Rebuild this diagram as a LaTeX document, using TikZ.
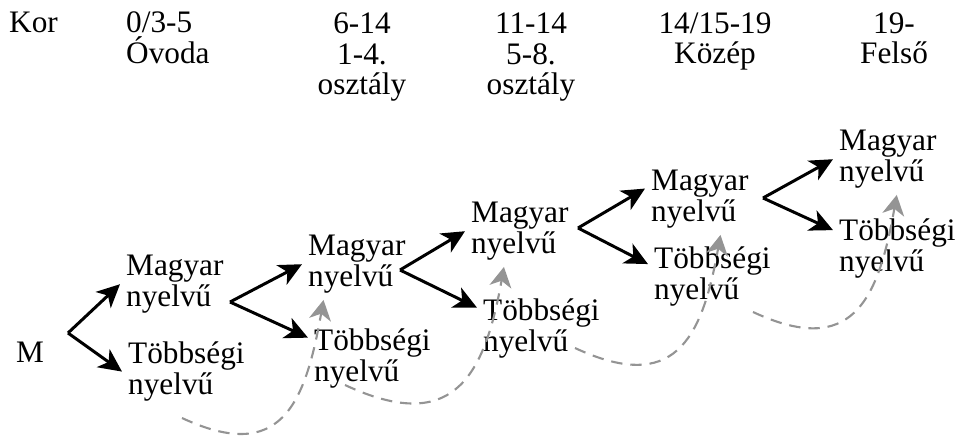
\documentclass[tikz,border=0pt]{standalone}
\usepackage{fontspec}
\setmainfont{Liberation Serif}
\usetikzlibrary{arrows.meta}
\tikzset{>={Stealth[length=4.6mm,width=4.4mm,inset=1.3mm]}}
\tikzset{
  label text/.style={align=left, anchor=base west, font=\fontsize{17.8}{18.1}\selectfont},
  head text/.style={align=center, anchor=base, font=\fontsize{17.8}{17.6}\selectfont},
  branch/.style={->, line width=1.7pt},
  back/.style={->, color=black!42, line width=1.2pt, dash pattern=on 6.5pt off 4.5pt,
    out=-25, in=-100, looseness=1.5, >={Stealth[length=4mm,width=4.4mm,inset=1.2mm]}}
}

\begin{document}
\begin{tikzpicture}
    \useasboundingbox (0,0) rectangle (19.3,-8.78);

    % age groups (node base = last line)
    \node[label text] (kor) at (0.06,-0.66) {Kor};
    \node[label text] (age1) at (2.4,-1.28) {0/3-5\\Óvoda};
    \node[head text] (age2) at (7.24,-1.9) {6-14\\1-4.\\osztály};
    \node[head text] (age3) at (10.62,-1.9) {11-14\\5-8.\\osztály};
    \node[head text] (age4) at (14.3,-1.28) {14/15-19\\Közép};
    \node[head text] (age5) at (17.88,-1.28) {19-\\Felső};

    \node[label text] (M) at (0.2,-7.26) {M};
    \node[label text] (mh1) at (2.4,-6.14) {Magyar\\nyelvű};
    \node[label text] (tb1) at (2.44,-7.9) {Többségi\\nyelvű};
    \node[label text] (mh2) at (6.04,-5.74) {Magyar\\nyelvű};
    \node[label text] (tb2) at (6.16,-7.64) {Többségi\\nyelvű};
    \node[label text] (mh3) at (9.3,-5.08) {Magyar\\nyelvű};
    \node[label text] (tb3) at (9.54,-7.04) {Többségi\\nyelvű};
    \node[label text] (mh4) at (12.9,-4.44) {Magyar\\nyelvű};
    \node[label text] (tb4) at (12.96,-6.0) {Többségi\\nyelvű};
    \node[label text] (mh5) at (16.66,-3.64) {Magyar\\nyelvű};
    \node[label text] (tb5) at (16.66,-5.44) {Többségi\\nyelvű};

    \coordinate (f0) at (1.36,-6.66);
    \coordinate (f1) at (4.6,-6.04);
    \coordinate (f2) at (8.0,-5.4);
    \coordinate (f3) at (11.56,-4.56);
    \coordinate (f4) at (15.26,-3.96);

    \coordinate (g1) at (3.64,-8.36);
    \coordinate (g2) at (6.9,-7.7);
    \coordinate (g3) at (11.5,-6.96);
    \coordinate (g4) at (15.06,-6.24);

    \draw[back] (g1) to (mh2.227);
    \draw[back] (g2) to (mh3.246);
    \draw[back] (g3) to (mh4.300);
    \draw[back] (g4) to (mh5.284);

    \draw[branch] (f0) -- (mh1.west);
    \draw[branch] (f0) -- (tb1.west);
    \draw[branch] (f1) -- (mh2.west);
    \draw[branch] (f1) -- (tb2.162);
    \draw[branch] (f2) -- (mh3.west);
    \draw[branch] (f2) -- (tb3.162);
    \draw[branch] (f3) -- (mh4.169);
    \draw[branch] (f3) -- (tb4.169);
    \draw[branch] (f4) -- (mh5.west);
    \draw[branch] (f4) -- (tb5.164);
\end{tikzpicture}
\end{document}
